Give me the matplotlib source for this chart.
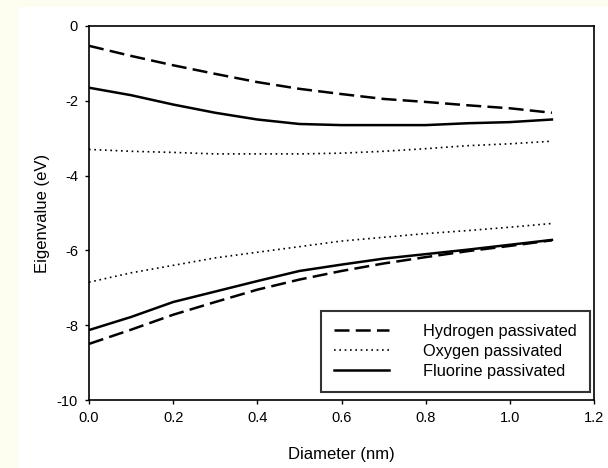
import matplotlib
matplotlib.use("Agg")
import matplotlib.pyplot as plt
from matplotlib.patches import Rectangle

plt.rcParams['font.family'] = ['Liberation Sans', 'DejaVu Sans']

diameter = [0.0, 0.1, 0.2, 0.3, 0.4, 0.5, 0.6, 0.7, 0.8, 0.9, 1.0, 1.1]

h_lumo = [-0.53, -0.80, -1.05, -1.28, -1.50, -1.68, -1.82, -1.95, -2.03, -2.12, -2.20, -2.32]
h_homo = [-8.50, -8.12, -7.72, -7.38, -7.05, -6.78, -6.55, -6.35, -6.18, -6.02, -5.88, -5.73]

o_lumo = [-3.30, -3.35, -3.38, -3.42, -3.42, -3.42, -3.40, -3.35, -3.28, -3.20, -3.15, -3.08]
o_homo = [-6.85, -6.60, -6.40, -6.20, -6.05, -5.90, -5.75, -5.65, -5.55, -5.47, -5.38, -5.28]

f_lumo = [-1.65, -1.85, -2.10, -2.32, -2.50, -2.62, -2.65, -2.65, -2.65, -2.60, -2.57, -2.50]
f_homo = [-8.13, -7.78, -7.38, -7.10, -6.82, -6.55, -6.38, -6.22, -6.10, -5.98, -5.85, -5.72]

labels = ["Hydrogen passivated", "Oxygen passivated", "Fluorine passivated"]
xticks = [0.0, 0.2, 0.4, 0.6, 0.8, 1.0, 1.2]
yticks = [0, -2, -4, -6, -8, -10]

W, H = 608, 468
fig = plt.figure(figsize=(W / 100, H / 100), dpi=100)
fig.patch.set_facecolor('#FEFEF0')
bg = Rectangle((19 / W, 0), 1 - 19 / W, 1 - 7 / H,
               transform=fig.transFigure, facecolor='white',
               edgecolor='none', zorder=-10)
fig.add_artist(bg)

ax = fig.add_axes([89 / W, 1 - 400 / H, (594 - 89) / W, (400 - 26) / H])
ax.set_zorder(1)
ax.set_facecolor('white')

dash = (0, (6, 2.5))
dot = (0, (1, 2.2))
l1, = ax.plot(diameter, h_lumo, color='black', lw=1.8, linestyle=dash)
ax.plot(diameter, h_homo, color='black', lw=1.8, linestyle=dash)
l2, = ax.plot(diameter, o_lumo, color='black', lw=1.2, linestyle=dot)
ax.plot(diameter, o_homo, color='black', lw=1.2, linestyle=dot)
l3, = ax.plot(diameter, f_lumo, color='black', lw=1.8, linestyle='-')
ax.plot(diameter, f_homo, color='black', lw=1.8, linestyle='-')

ax.set_xlim(0, 1.2)
ax.set_ylim(-10, 0)
ax.set_xticks(xticks)
ax.set_xticklabels([f"{t:.1f}" for t in xticks])
ax.set_yticks(yticks)
ax.set_yticklabels([f"{t:d}" for t in yticks])
ax.tick_params(direction='out', length=3, width=1, labelsize=10.5, pad=5)
for s in ax.spines.values():
    s.set_linewidth(1.2)

ax.set_xlabel("Diameter (nm)", fontsize=12, labelpad=16)
ax.set_ylabel("Eigenvalue (eV)", fontsize=12, labelpad=5)

leg = ax.legend([l1, l2, l3], labels, loc='lower right',
                bbox_to_anchor=(0.992, 0.0214), borderaxespad=0,
                fontsize=11.8, frameon=True, fancybox=False,
                handlelength=3.35, handletextpad=2.1, labelspacing=0.3,
                borderpad=0.8)
leg.get_frame().set_edgecolor('black')
leg.get_frame().set_linewidth(1.5)

fig.savefig("out.png", dpi=100, facecolor=fig.get_facecolor())
